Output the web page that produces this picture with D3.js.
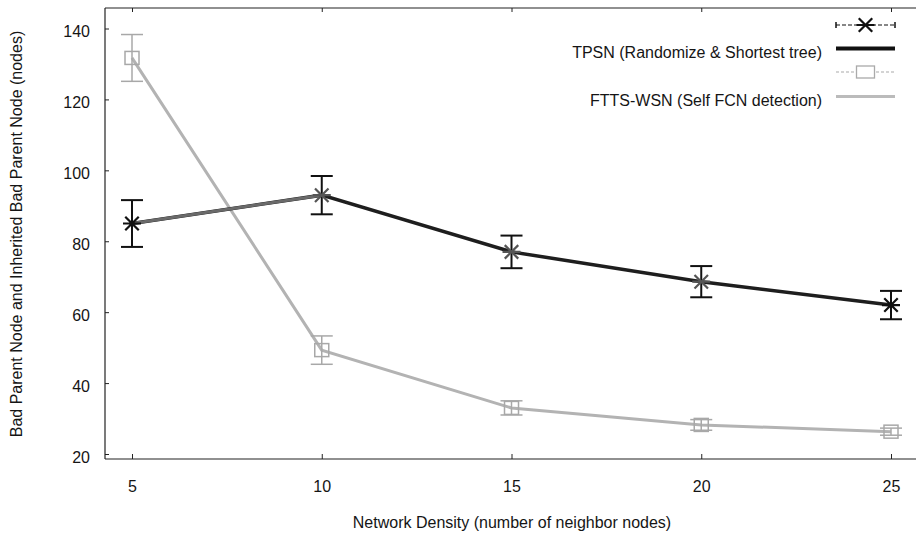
<!DOCTYPE html>
<html><head><meta charset="utf-8">
<script src="https://cdn.jsdelivr.net/npm/d3@7/dist/d3.min.js"></script>
<style>
body{margin:0;background:#fff;}
text{font-family:"Liberation Sans",Arial,sans-serif;fill:#151515;}
</style></head>
<body><svg id="c" width="916" height="535"></svg>
<script>
const density = [5, 10, 15, 20, 25];
const tpsnMean = [85, 93, 77, 68.6, 62];
const tpsnErr = [6.6, 5.4, 4.6, 4.4, 4];
const fttsMean = [131.7, 49.3, 33, 28.2, 26.3];
const fttsErr = [6.6, 4, 2, 1.5, 1];
const xTicks = [5, 10, 15, 20, 25];
const yTicks = [20, 40, 60, 80, 100, 120, 140];
const seriesNames = ["TPSN (Randomize & Shortest tree)", "FTTS-WSN (Self FCN detection)"];
const xTitle = "Network Density (number of neighbor nodes)";
const yTitle = "Bad Parent Node and Inherited Bad Parent Node (nodes)";

(function () {
const svg = d3.select("#c");
const pL = 105, pR = 916, pT = 8, pB = 459;
const x = d3.scaleLinear().domain([5, 25]).range([132, 891]);
const y = d3.scaleLinear().domain([20, 140]).range([454, 28.5]);

// axes
const gy = svg.append("g").attr("transform", `translate(${pL},0)`)
  .call(d3.axisRight(y).tickValues(yTicks).tickSize(4).tickFormat(""));
gy.select(".domain").remove();
gy.selectAll("line").attr("stroke", "#222");
const gyl = svg.append("g").attr("transform", `translate(90,0)`)
  .call(d3.axisLeft(y).tickValues(yTicks).tickSize(0).tickPadding(0));
gyl.select(".domain").remove();
gyl.selectAll("text").attr("font-size", 16).attr("dy", "0.52em");

const gx = svg.append("g").attr("transform", `translate(0,${pB})`)
  .call(d3.axisTop(x).tickValues(xTicks).tickSize(5).tickFormat(""));
gx.select(".domain").remove();
gx.selectAll("line").attr("stroke", "#222");
const gxt = svg.append("g").attr("transform", `translate(0,${pT})`)
  .call(d3.axisBottom(x).tickValues(xTicks).tickSize(4).tickFormat(""));
gxt.select(".domain").remove();
gxt.selectAll("line").attr("stroke", "#222");
const gxl = svg.append("g").attr("transform", `translate(0,481)`)
  .call(d3.axisBottom(x).tickValues(xTicks).tickSize(0).tickPadding(0));
gxl.select(".domain").remove();
gxl.selectAll("text").attr("font-size", 16).attr("dy", "0.71em");

svg.append("line").attr("x1", pL).attr("x2", pL).attr("y1", pT).attr("y2", pB).attr("stroke", "#222").attr("stroke-width", 1.2);
svg.append("line").attr("x1", pL).attr("x2", pR).attr("y1", pB).attr("y2", pB).attr("stroke", "#222").attr("stroke-width", 1.2);
svg.append("line").attr("x1", pL).attr("x2", pR).attr("y1", pT).attr("y2", pT).attr("stroke", "#222").attr("stroke-width", 1.2);

svg.append("text").attr("x", 512).attr("y", 528).attr("text-anchor", "middle").attr("font-size", 16).text(xTitle);
svg.append("text").attr("transform", "translate(22,234) rotate(-90)").attr("text-anchor", "middle").attr("font-size", 16).text(yTitle);

const line = d3.line().x(d => x(d[0])).y(d => y(d[1]));

// FTTS series
const ftts = density.map((d, i) => [d, fttsMean[i], fttsErr[i]]);
svg.append("path").datum(ftts).attr("d", line).attr("fill", "none").attr("stroke", "#b3b3b3").attr("stroke-width", 3);
const fe = svg.append("g").selectAll("g").data(ftts).join("g").attr("stroke", "#a8a8a8").attr("stroke-width", 1.5);
fe.append("line").attr("x1", d => x(d[0])).attr("x2", d => x(d[0])).attr("y1", d => y(d[1] - d[2])).attr("y2", d => y(d[1] + d[2]));
fe.append("line").attr("x1", d => x(d[0]) - 11).attr("x2", d => x(d[0]) + 11).attr("y1", d => y(d[1] + d[2])).attr("y2", d => y(d[1] + d[2]));
fe.append("line").attr("x1", d => x(d[0]) - 11).attr("x2", d => x(d[0]) + 11).attr("y1", d => y(d[1] - d[2])).attr("y2", d => y(d[1] - d[2]));
fe.append("rect").attr("x", d => x(d[0]) - 7).attr("y", d => y(d[1]) - 6.5).attr("width", 14).attr("height", 13).attr("fill", "none");

// TPSN series
const tpsn = density.map((d, i) => [d, tpsnMean[i], tpsnErr[i]]);
svg.append("path").datum(tpsn).attr("d", line).attr("fill", "none").attr("stroke", "#1e1e1e").attr("stroke-width", 3.5);
svg.append("path").datum(tpsn.slice(0, 2)).attr("d", line).attr("fill", "none").attr("stroke", "#6a6a6a").attr("stroke-width", 3);
const te = svg.append("g").selectAll("g").data(tpsn).join("g").attr("stroke", "#111").attr("stroke-width", 2);
te.append("line").attr("x1", d => x(d[0])).attr("x2", d => x(d[0])).attr("y1", d => y(d[1] - d[2])).attr("y2", d => y(d[1] + d[2]));
te.append("line").attr("x1", d => x(d[0]) - 11).attr("x2", d => x(d[0]) + 11).attr("y1", d => y(d[1] + d[2])).attr("y2", d => y(d[1] + d[2]));
te.append("line").attr("x1", d => x(d[0]) - 11).attr("x2", d => x(d[0]) + 11).attr("y1", d => y(d[1] - d[2])).attr("y2", d => y(d[1] - d[2]));
function star(g, cx, cy, r, col) {
  g.append("path").attr("d", `M${cx - r},${cy}L${cx + r},${cy}M${cx - r * 0.75},${cy - r * 0.75}L${cx + r * 0.75},${cy + r * 0.75}M${cx - r * 0.75},${cy + r * 0.75}L${cx + r * 0.75},${cy - r * 0.75}`)
    .attr("stroke", col).attr("stroke-width", 2.2).attr("fill", "none");
}
tpsn.forEach((d, i) => star(svg, x(d[0]), y(d[1]), 9, (i === 0 || i === 4) ? "#111" : "#555"));

// legend
const lx1 = 836, lx2 = 895, lxc = (lx1 + lx2) / 2;
svg.append("line").attr("x1", lx1).attr("x2", lx2).attr("y1", 25).attr("y2", 25).attr("stroke", "#111").attr("stroke-width", 1.2).attr("stroke-dasharray", "4,2");
svg.append("line").attr("x1", lx1).attr("x2", lx1).attr("y1", 22).attr("y2", 28).attr("stroke", "#111").attr("stroke-width", 1.5);
svg.append("line").attr("x1", lx2).attr("x2", lx2).attr("y1", 22).attr("y2", 28).attr("stroke", "#111").attr("stroke-width", 1.5);
star(svg, lxc, 25, 9, "#111");
svg.append("line").attr("x1", lx1).attr("x2", lx2).attr("y1", 48.5).attr("y2", 48.5).attr("stroke", "#111").attr("stroke-width", 4);
svg.append("text").attr("x", 822).attr("y", 58).attr("text-anchor", "end").attr("font-size", 16).text(seriesNames[0]);
svg.append("line").attr("x1", lx1).attr("x2", lx2).attr("y1", 72).attr("y2", 72).attr("stroke", "#aaa").attr("stroke-width", 1.2).attr("stroke-dasharray", "3,2");
svg.append("rect").attr("x", lxc - 9).attr("y", 66).attr("width", 18).attr("height", 12).attr("fill", "#fff").attr("stroke", "#aaa").attr("stroke-width", 1.3);
svg.append("line").attr("x1", lx1).attr("x2", lx2).attr("y1", 96.5).attr("y2", 96.5).attr("stroke", "#bbb").attr("stroke-width", 3);
svg.append("text").attr("x", 822).attr("y", 106).attr("text-anchor", "end").attr("font-size", 16).text(seriesNames[1]);
})();
</script></body></html>
